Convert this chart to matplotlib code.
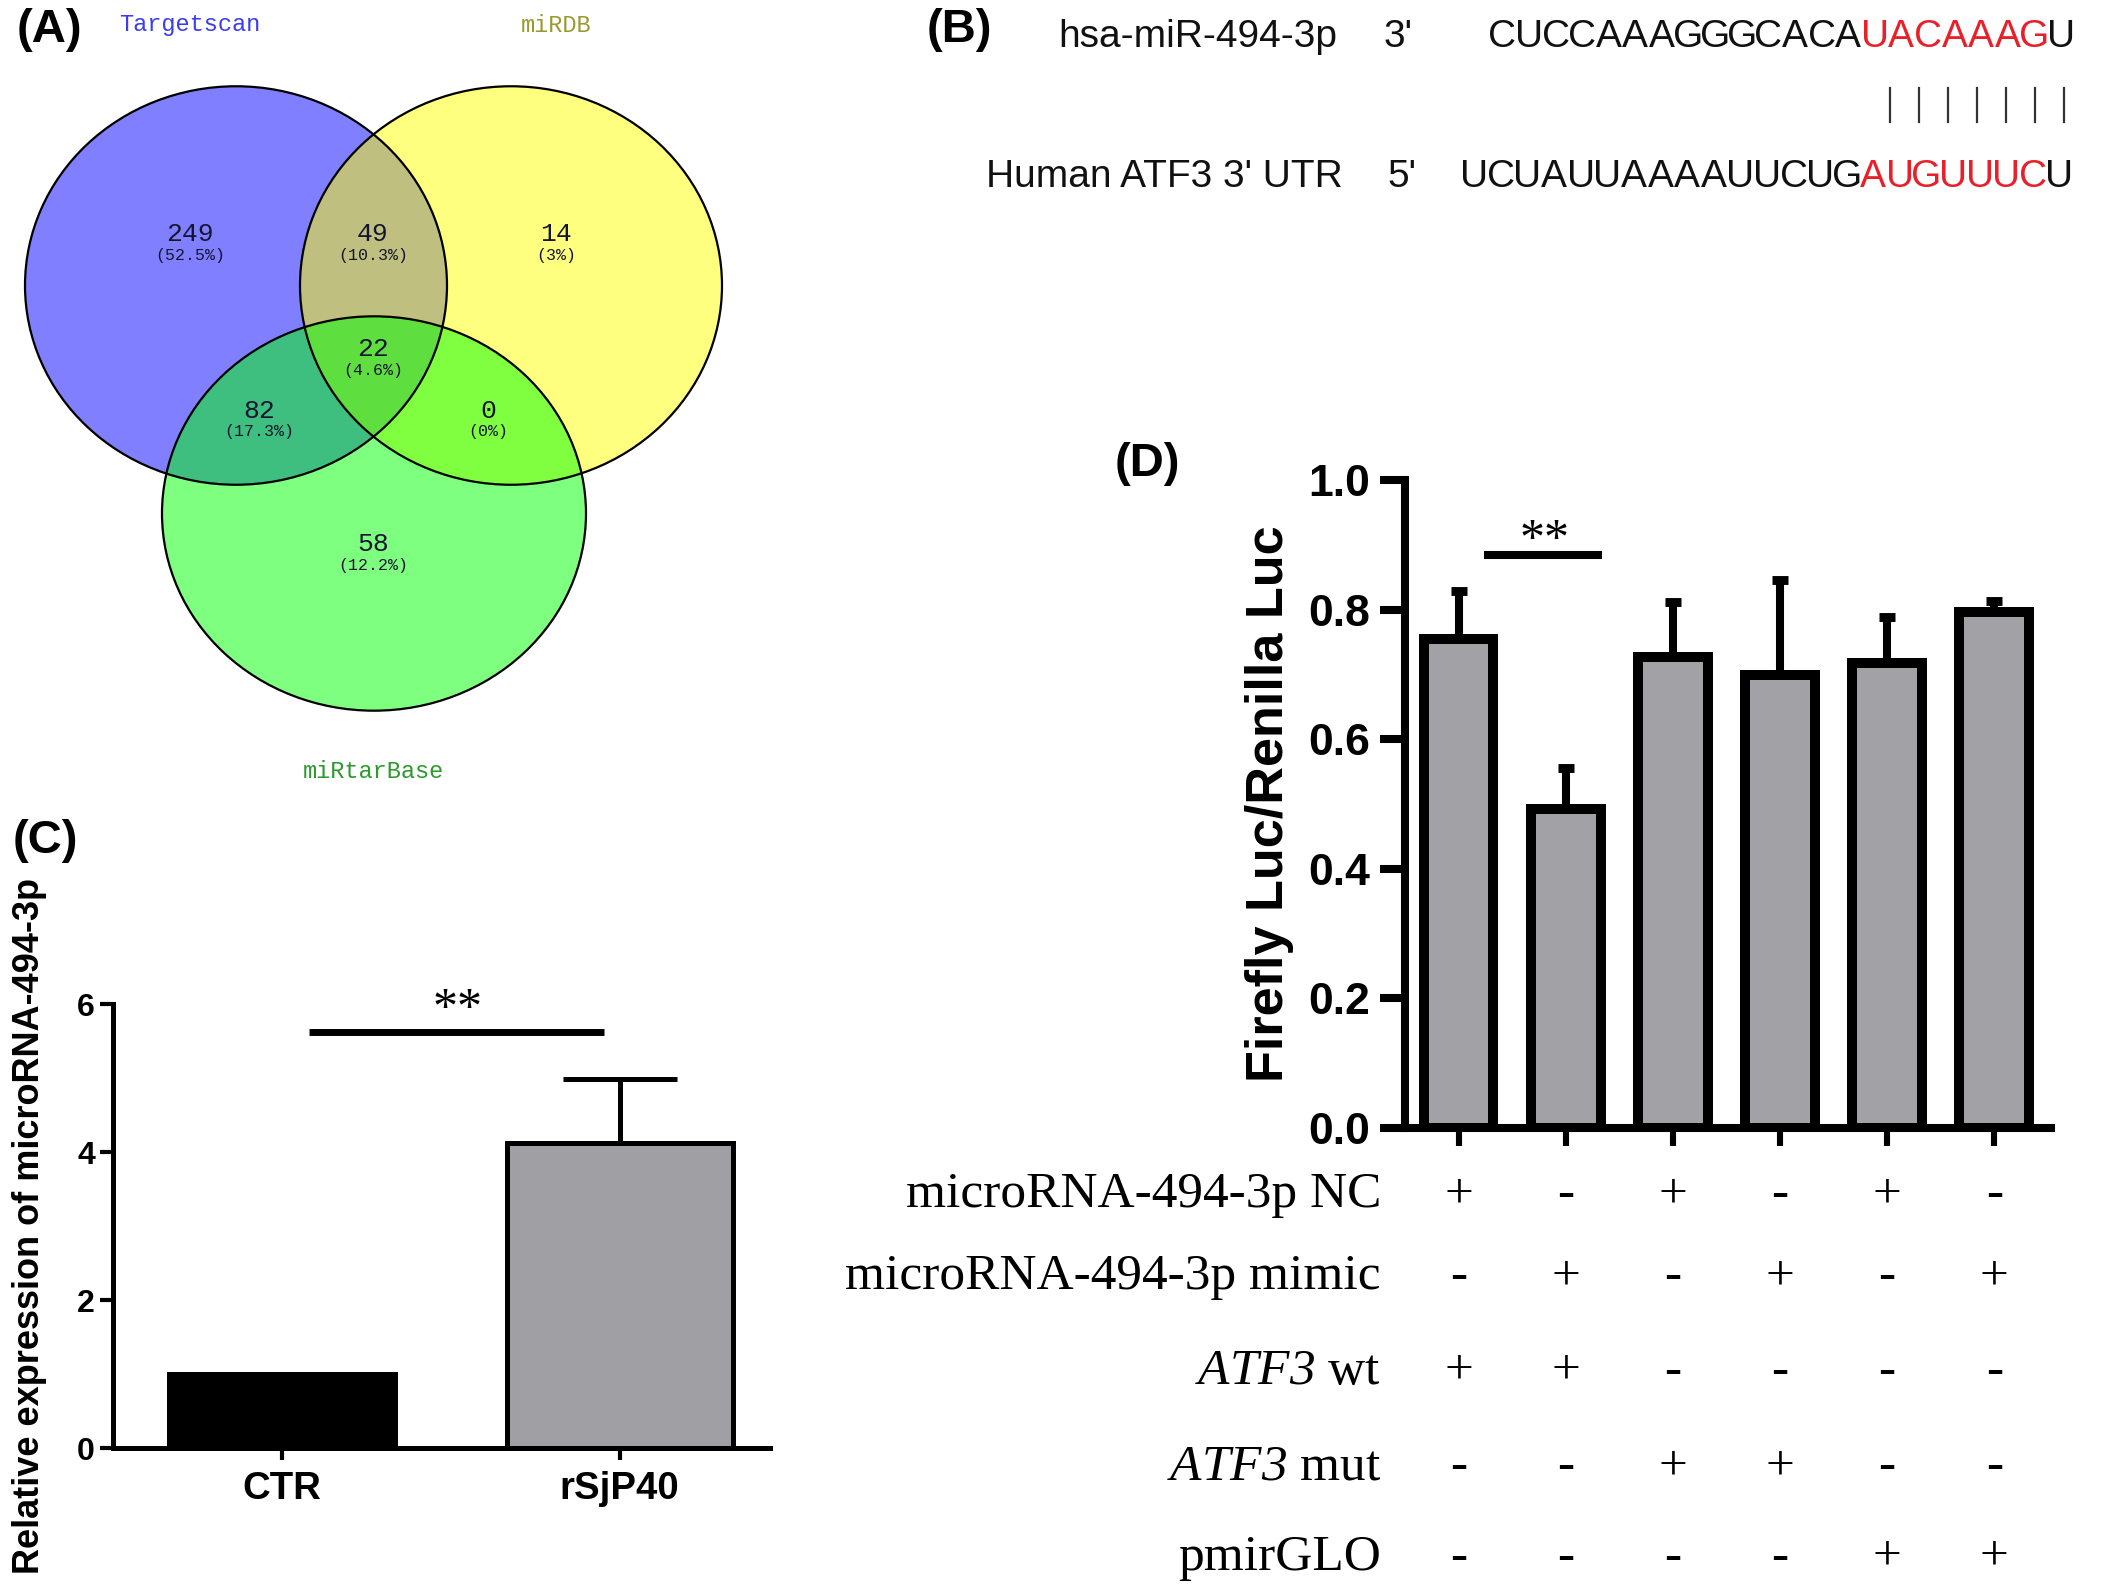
import matplotlib
matplotlib.use('Agg')
import matplotlib.pyplot as plt
from matplotlib.patches import Ellipse
import matplotlib.transforms as mtransforms
import numpy as np

plt.rcParams['font.family'] = ['Liberation Sans', 'DejaVu Sans']
plt.rcParams['mathtext.fontset'] = 'custom'
plt.rcParams['mathtext.rm'] = 'Liberation Serif:italic'
plt.rcParams['mathtext.it'] = 'Liberation Serif:italic'

# ---------------- data ----------------
venn_sets = ['Targetscan', 'miRDB', 'miRtarBase']
venn_set_colors = ['#3c3cf0', '#9a9a32', '#2e9a2e']
venn_fill = [(0, 0, 1), (1, 1, 0), (0, 1, 0)]
venn_regions = ['T only', 'T&D', 'D only', 'T&B', 'T&D&B', 'D&B', 'B only']
venn_counts = [249, 49, 14, 82, 22, 0, 58]

mirna_name = 'hsa-miR-494-3p'
utr_name = "Human ATF3 3' UTR"
mirna_end = "3'"
utr_end = "5'"
mirna_seq = 'CUCCAAAGGGCACAUACAAAGU'
utr_seq = 'UCUAUUAAAAUUCUGAUGUUUCU'
mirna_seed = (14, 21)
utr_seed = (15, 22)
n_pairs = 7

c_groups = ['CTR', 'rSjP40']
c_means = [1.0, 4.12]
c_err = [0.0, 0.86]
c_colors = ['black', '#A0A0A4']

d_means = [0.755, 0.492, 0.727, 0.699, 0.717, 0.796]
d_err = [0.073, 0.063, 0.084, 0.146, 0.071, 0.017]
d_rows = ['microRNA-494-3p NC', 'microRNA-494-3p mimic',
          r'$\mathrm{ATF3}$ wt', r'$\mathrm{ATF3}$ mut', 'pmirGLO']
d_design = [[1, 0, 1, 0, 1, 0],
            [0, 1, 0, 1, 0, 1],
            [1, 1, 0, 0, 0, 0],
            [0, 0, 1, 1, 0, 0],
            [0, 0, 0, 0, 1, 1]]

# ---------------- figure ----------------
W, H = 2128, 1586
fig = plt.figure(figsize=(W / 200, H / 200), dpi=200)


def rect(x0, y0, x1, y1):
    return [x0 / W, 1 - y1 / H, (x1 - x0) / W, (y1 - y0) / H]


# ---------------- (A) Venn ----------------
va = fig.add_axes(rect(0, 0, 760, 820))
va.set_xlim(0, 760)
va.set_ylim(820, 0)
va.axis('off')
ys = 1.027
centers = [(236, 278 * ys), (511, 278 * ys), (374, 500 * ys)]
sizes = [(422, 388 * ys), (422, 388 * ys), (424, 384 * ys)]
for (cx, cy), (w, h), col in zip(centers, sizes, venn_fill):
    va.add_patch(Ellipse((cx, cy), w, h, facecolor=col, alpha=0.5, edgecolor='none'))
for (cx, cy), (w, h) in zip(centers, sizes):
    va.add_patch(Ellipse((cx, cy), w, h, facecolor='none', edgecolor='black', lw=0.8))

set_pos = [(190, 25), (556, 25), (373, 771)]
for name, (x, y), col in zip(venn_sets, set_pos, venn_set_colors):
    va.text(x, y, name, ha='center', va='center', color=col,
            family='Liberation Mono', fontsize=8.5)

total = sum(venn_counts)
reg_pos = [(190, 228), (373, 228), (556, 228), (259, 400), (373, 340), (488, 400), (373, 530)]
for cnt, (x, y) in zip(venn_counts, reg_pos):
    p = round(100 * cnt / total, 1)
    va.text(x, y * ys, str(cnt), ha='center', va='center', color='#151530',
            family='Liberation Mono', fontsize=9.5)
    va.text(x, y * ys + 21, f'({p:g}%)', ha='center', va='center', color='#151530',
            family='Liberation Mono', fontsize=6)

# ---------------- (C) bar chart ----------------
axc = fig.add_axes(rect(113, 1004, 770, 1448))
xc = np.arange(len(c_groups))
axc.bar(xc, c_means, width=0.67, color=c_colors, edgecolor='black', linewidth=1.8, zorder=2)
axc.errorbar(xc[1:], c_means[1:], yerr=[[0], c_err[1:]], fmt='none', ecolor='black',
             elinewidth=1.8, capsize=20.5, capthick=1.8, zorder=3)
axc.set_xlim(-0.5, 1.445)
axc.set_ylim(0, 6)
axc.set_yticks([0, 2, 4, 6])
axc.set_xticks(xc)
axc.set_xticklabels(c_groups, fontsize=13.8, fontweight='bold')
for lab in axc.get_yticklabels():
    lab.set_fontweight('bold')
    lab.set_fontsize(11.5)
axc.tick_params(axis='y', length=4.7, width=1.5, pad=1.8)
axc.tick_params(axis='x', length=4.3, width=1.5, pad=4.0)
for s in ['top', 'right']:
    axc.spines[s].set_visible(False)
for s in ['left', 'bottom']:
    axc.spines[s].set_linewidth(1.8)
axc.plot([0.08, 0.955], [5.62, 5.62], color='black', lw=2.5, clip_on=False,
         solid_capstyle='butt')
axc.text(0.52, 5.92, '**', ha='center', va='center', fontsize=18,
         family='Liberation Serif', clip_on=False)

# ---------------- (D) bar chart ----------------
axd = fig.add_axes(rect(1405, 480, 2051, 1128))
xd = np.arange(len(d_means))
axd.bar(xd, d_means, width=0.65, color='#A2A1A6', edgecolor='black', linewidth=3.6, zorder=2)
axd.errorbar(xd, d_means, yerr=[np.zeros(len(d_err)), d_err], fmt='none', ecolor='black',
             elinewidth=2.9, capsize=3, capthick=3.2, zorder=1)
axd.set_xlim(-0.5, 5.53)
axd.set_ylim(0, 1.0)
axd.set_yticks(np.arange(0, 1.01, 0.2))
axd.set_yticklabels([f'{v:.1f}' for v in np.arange(0, 1.01, 0.2)], fontsize=16, fontweight='bold')
axd.set_xticks(xd)
axd.set_xticklabels([])
axd.tick_params(axis='y', length=9, width=2.9, pad=3.6)
axd.tick_params(axis='x', length=6.5, width=2.2)
for s in ['top', 'right']:
    axd.spines[s].set_visible(False)
for s in ['left', 'bottom']:
    axd.spines[s].set_linewidth(2.9)
axd.plot([0.24, 1.34], [0.884, 0.884], color='black', lw=2.9, solid_capstyle='butt')
axd.text(0.80, 0.907, '**', ha='center', va='center', fontsize=18, family='Liberation Serif')

# ---------------- overlay: labels, panel B, table ----------------
ov = fig.add_axes([0, 0, 1, 1])
ov.set_xlim(0, W)
ov.set_ylim(H, 0)
ov.axis('off')

for lab, (x, y) in zip(['(A)', '(B)', '(C)', '(D)'],
                       [(49, 30), (959, 30), (45, 841), (1147, 464)]):
    ov.text(x, y, lab, ha='center', va='center', fontsize=17, fontweight='bold')

ov.text(30, 1226, 'Relative expression of microRNA-494-3p', rotation=90,
        ha='center', va='center', fontsize=13, fontweight='bold')
ov.text(1269, 804, 'Firefly Luc/Renilla Luc', rotation=90,
        ha='center', va='center', fontsize=18.8, fontweight='bold')

# panel B
seq_fs = 14
ov.text(1337, 47, mirna_name, ha='right', va='baseline', fontsize=seq_fs, color='#111')
ov.text(1398, 47, mirna_end, ha='center', va='baseline', fontsize=seq_fs, color='#111')
ov.text(1343, 187, utr_name, ha='right', va='baseline', fontsize=seq_fs, color='#111')
ov.text(1402, 187, utr_end, ha='center', va='baseline', fontsize=seq_fs, color='#111')
step = 26.6
for i, ch in enumerate(mirna_seq):
    col = '#e8202a' if mirna_seed[0] <= i < mirna_seed[1] else '#111'
    ov.text(1489 + step * (i + 0.5), 47, ch, ha='center', va='baseline', fontsize=seq_fs, color=col)
for i, ch in enumerate(utr_seq):
    col = '#e8202a' if utr_seed[0] <= i < utr_seed[1] else '#111'
    ov.text(1461 + step * (i + 0.5), 187, ch, ha='center', va='baseline', fontsize=seq_fs, color=col)
for k in range(n_pairs):
    xb = 1890 + 29 * k
    ov.plot([xb, xb], [88, 122], color='#333', lw=0.8)

# panel D design table
row_base = [1207, 1289, 1384, 1479, 1570]
trans = mtransforms.blended_transform_factory(axd.transData, ov.transData)
for r, (lab, yb) in enumerate(zip(d_rows, row_base)):
    ov.text(1381, yb, lab, ha='right', va='baseline', fontsize=18.5, family='Liberation Serif')
    for j, v in enumerate(d_design[r]):
        if v:
            ov.text(xd[j], yb, '+', transform=trans, ha='center', va='baseline',
                    fontsize=18.5, family='Liberation Serif')
        else:
            ov.text(xd[j], yb, '-', transform=trans, ha='center', va='baseline',
                    fontsize=18.5, family='Liberation Serif', fontweight='bold')

fig.savefig('out.png', dpi=200, facecolor='white')
